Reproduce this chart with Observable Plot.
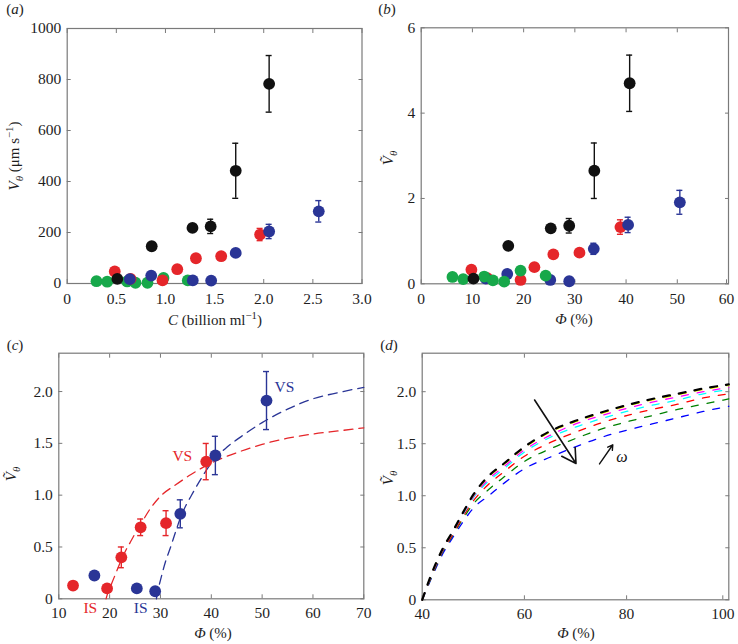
<!DOCTYPE html>
<html><head><meta charset="utf-8">
<script src="https://cdn.jsdelivr.net/npm/d3@7"></script>
<script src="https://cdn.jsdelivr.net/npm/@observablehq/plot@0.6"></script>
<style>
body{margin:0;background:#fff;}
#root{position:relative;width:738px;height:644px;overflow:hidden;background:#fff;}
#root svg{position:absolute;overflow:visible;}
</style></head><body><div id="root"></div>
<script>
const FONT = "'Liberation Serif', 'Times New Roman', serif";
const GRAY = "#7a7a7a", TXT = "#1e1e1e";
const RED = "#e5262a", BLUE = "#2a3596", GREEN = "#17a84a", BLACK = "#111111";

// ---------- Panel (a): V_theta vs C ----------
const aTicksX = [0, 0.5, 1, 1.5, 2, 2.5, 3];
const aTicksY = [0, 200, 400, 600, 800, 1000];
const aBlackC = [0.51, 0.86, 1.275, 1.46, 1.715, 2.055];
const aBlackV = [18, 146, 218, 224, 442, 783];
const aBlackErr = [0, 0, 0, 28, 108, 111];
const aRedC = [0.484, 0.645, 0.97, 1.12, 1.31, 1.567, 1.963];
const aRedV = [47, 18, 12, 56, 99, 107, 192];
const aRedErr = [0, 0, 0, 0, 0, 0, 24];
const aBlueC = [0.637, 0.855, 1.278, 1.465, 1.715, 2.055, 2.56];
const aBlueV = [17, 31, 12, 11, 120, 204, 283];
const aBlueErr = [0, 0, 0, 0, 0, 28, 42];
const aGreenC = [0.298, 0.407, 0.61, 0.695, 0.817, 0.98, 1.227];
const aGreenV = [9, 7, 8, 3, 3, 22, 12];

// ---------- Panel (b): normalised V vs Phi ----------
const bTicksX = [0, 10, 20, 30, 40, 50, 60];
const bTicksY = [0, 2, 4, 6];
const bBlackPhi = [10.2, 17.0, 25.3, 28.9, 33.8, 40.7];
const bBlackV = [0.12, 0.89, 1.30, 1.36, 2.65, 4.70];
const bBlackErr = [0, 0, 0, 0.17, 0.65, 0.66];
const bRedPhi = [9.8, 12.9, 19.4, 22.1, 25.8, 30.9, 38.9];
const bRedV = [0.33, 0.13, 0.09, 0.39, 0.69, 0.73, 1.33];
const bRedErr = [0, 0, 0, 0, 0, 0, 0.17];
const bBluePhi = [12.6, 16.8, 25.2, 28.9, 33.7, 40.4, 50.5];
const bBlueV = [0.12, 0.23, 0.09, 0.06, 0.82, 1.38, 1.91];
const bBlueErr = [0, 0, 0, 0, 0.13, 0.18, 0.28];
const bGreenPhi = [6.1, 8.2, 12.3, 14.0, 16.2, 19.4, 24.3];
const bGreenV = [0.16, 0.11, 0.17, 0.08, 0.05, 0.31, 0.19];

// ---------- Panel (c): data + fits ----------
const cTicksX = [10, 20, 30, 40, 50, 60, 70];
const cTicksY = [0, 0.5, 1, 1.5, 2];
const cRedPhi = [12.8, 19.5, 22.3, 26.1, 31.1, 39.0];
const cRedV = [0.128, 0.10, 0.40, 0.69, 0.73, 1.324];
const cRedErr = [0, 0, 0.10, 0.08, 0.12, 0.175];
const cBluePhi = [17.0, 25.35, 28.96, 33.9, 40.8, 50.86];
const cBlueV = [0.225, 0.10, 0.073, 0.82, 1.383, 1.913];
const cBlueErr = [0, 0, 0, 0.135, 0.185, 0.28];
const cRedFitPhi = [19.3, 19.6, 20, 21, 22, 23, 24, 25, 26, 28, 30, 33, 36, 40, 45, 50, 55, 60, 65, 70];
const cRedFitV = [0, 0.05, 0.10, 0.22, 0.34, 0.45, 0.54, 0.63, 0.71, 0.87, 0.99, 1.10, 1.20, 1.31, 1.41, 1.49, 1.55, 1.59, 1.62, 1.65];
const cBlueFitPhi = [29.2, 29.5, 30, 31, 32, 33, 34, 35, 36, 38, 40, 43, 46, 50, 55, 60, 65, 70];
const cBlueFitV = [0, 0.08, 0.18, 0.36, 0.50, 0.65, 0.79, 0.90, 0.99, 1.16, 1.31, 1.46, 1.57, 1.70, 1.83, 1.93, 1.99, 2.04];
const cLabelText = ["VS", "VS", "IS", "IS"];
const cLabelPhi = [34.3, 54.4, 16.2, 26.1];
const cLabelV = [1.38, 2.04, -0.085, -0.085];
const cLabelColor = [RED, BLUE, RED, BLUE];

// ---------- Panel (d): model curves for increasing omega ----------
const dTicksX = [40, 60, 80, 100];
const dTicksY = [0, 0.5, 1, 1.5, 2];
const dPhi = [40, 42, 44, 46, 48, 50, 53, 56, 60, 65, 70, 75, 80, 85, 90, 95, 100];
const dBlack   = [0, 0.27, 0.49, 0.66, 0.84, 1.01, 1.19, 1.31, 1.47, 1.62, 1.72, 1.80, 1.87, 1.93, 1.98, 2.03, 2.07];
const dYellow  = [0, 0.27, 0.49, 0.66, 0.84, 1.00, 1.18, 1.30, 1.46, 1.61, 1.71, 1.79, 1.86, 1.92, 1.97, 2.02, 2.06];
const dMagenta = [0, 0.26, 0.48, 0.65, 0.83, 0.99, 1.16, 1.28, 1.44, 1.58, 1.69, 1.77, 1.84, 1.90, 1.95, 2.00, 2.04];
const dCyan    = [0, 0.26, 0.48, 0.65, 0.82, 0.98, 1.14, 1.26, 1.42, 1.56, 1.66, 1.74, 1.81, 1.87, 1.92, 1.98, 2.02];
const dRed     = [0, 0.25, 0.47, 0.63, 0.80, 0.95, 1.11, 1.23, 1.38, 1.51, 1.61, 1.70, 1.77, 1.83, 1.88, 1.94, 1.98];
const dGreen   = [0, 0.24, 0.46, 0.62, 0.78, 0.92, 1.06, 1.18, 1.33, 1.45, 1.55, 1.64, 1.71, 1.77, 1.83, 1.88, 1.93];
const dBlue    = [0, 0.23, 0.44, 0.60, 0.75, 0.88, 1.00, 1.12, 1.26, 1.37, 1.47, 1.56, 1.63, 1.69, 1.75, 1.81, 1.86];
const dCurveNames = ["blue", "green", "red", "cyan", "magenta", "yellow", "black"];
const dCurveColors = ["#2b36a3", "#1f9e4e", "#e0283a", "#22aed4", "#c23ca6", "#cdb252", "#111111"];
const dArrowBig = {x1: [62.0], y1: [1.92], x2: [70.1], y2: [1.31]};
const dArrowSmall = {x1: [74.7], y1: [1.306], x2: [77.3], y2: [1.49]};
const dOmega = {x: [79.1], y: [1.37], text: ["ω"]};

// ---------- helpers ----------
const pts = (xs, ys, es) => xs.map((x, i) => ({x, y: ys[i], e: es ? es[i] : 0}));
function scatter(data, color, r = 5.9) {
  const eb = data.filter(d => d.e > 0);
  const cap = {x1: "x", x2: "x", insetLeft: -3, insetRight: -3, stroke: color, strokeWidth: 1.4};
  return [
    Plot.ruleX(eb, {x: "x", y1: d => d.y - d.e, y2: d => d.y + d.e, stroke: color, strokeWidth: 1.4}),
    Plot.ruleY(eb, {y: d => d.y - d.e, ...cap}),
    Plot.ruleY(eb, {y: d => d.y + d.e, ...cap}),
    Plot.dot(data, {x: "x", y: "y", r, fill: color})
  ];
}
function box(xT, yT, xF, yF, xPad = 9, yPad = 6, lastDx = 0) {
  const ts = -4;
  const xMain = lastDx ? xT.slice(0, -1) : xT;
  return [
    Plot.axisX(xMain, {anchor: "bottom", tickSize: ts, tickPadding: xPad - ts, tickFormat: xF, stroke: GRAY, fill: TXT, label: null}),
    ...(lastDx ? [Plot.axisX(xT.slice(-1), {anchor: "bottom", tickSize: ts, tickPadding: xPad - ts, tickFormat: xF, stroke: GRAY, fill: TXT, label: null, dx: lastDx})] : []),
    Plot.axisX(xT, {anchor: "top", tickSize: ts, stroke: GRAY, fill: "none", label: null}),
    Plot.axisY(yT, {anchor: "left", tickSize: ts, tickPadding: yPad - ts, tickFormat: yF, stroke: GRAY, fill: TXT, label: null}),
    Plot.axisY(yT, {anchor: "right", tickSize: ts, stroke: GRAY, fill: "none", label: null}),
    Plot.frame({stroke: GRAY, strokeWidth: 1.2})
  ];
}
const fmt1 = d => d === 0 ? "0" : d.toFixed(1);
const fmt0 = d => String(d);
const style = {fontFamily: FONT, fontSize: "15.5px", color: TXT, background: "transparent", overflow: "visible"};
const root = document.getElementById("root");
function place(svg, left, top) { svg.style.left = left + "px"; svg.style.top = top + "px"; root.appendChild(svg); }

// ---------- (a) ----------
place(Plot.plot({
  width: 369, height: 320, marginLeft: 66.7, marginRight: 7.5, marginTop: 28, marginBottom: 37,
  x: {domain: [0, 3], label: null}, y: {domain: [0, 1000], label: null}, style,
  marks: [
    ...box(aTicksX, aTicksY, fmt1, fmt0),
    ...scatter(pts(aGreenC, aGreenV), GREEN),
    ...scatter(pts(aRedC, aRedV, aRedErr), RED),
    ...scatter(pts(aBlueC, aBlueV, aBlueErr), BLUE),
    ...scatter(pts(aBlackC, aBlackV, aBlackErr), BLACK)
  ]
}), 0, 0);

// ---------- (b) ----------
place(Plot.plot({
  width: 369, height: 320, marginLeft: 51.7, marginRight: 10, marginTop: 27.3, marginBottom: 36.7,
  x: {domain: [0, 60], label: null}, y: {domain: [0, 6], label: null}, style,
  marks: [
    ...box(bTicksX, bTicksY, fmt0, fmt0, 9, 6, -2),
    ...scatter(pts(bRedPhi, bRedV, bRedErr), RED),
    ...scatter(pts(bBluePhi, bBlueV, bBlueErr), BLUE),
    ...scatter(pts(bGreenPhi, bGreenV), GREEN),
    ...scatter(pts(bBlackPhi, bBlackV, bBlackErr), BLACK)
  ]
}), 369, 0);

// ---------- (c) ----------
const cLabels = cLabelText.map((t, i) => ({t, x: cLabelPhi[i], y: cLabelV[i], c: cLabelColor[i]}));
place(Plot.plot({
  width: 369, height: 324, marginLeft: 58.3, marginRight: 5.7, marginTop: 32.7, marginBottom: 45.7,
  x: {domain: [10, 70], label: null}, y: {domain: [0, 2.37], label: null}, style,
  marks: [
    ...box(cTicksX, cTicksY, fmt0, fmt1, 8, 6),
    Plot.line(pts(cRedFitPhi, cRedFitV), {x: "x", y: "y", stroke: RED, strokeWidth: 1.3, strokeDasharray: "9,6", curve: "monotone-x"}),
    Plot.line(pts(cBlueFitPhi, cBlueFitV), {x: "x", y: "y", stroke: BLUE, strokeWidth: 1.3, strokeDasharray: "9,6", curve: "monotone-x"}),
    ...scatter(pts(cRedPhi, cRedV, cRedErr), RED),
    ...scatter(pts(cBluePhi, cBlueV, cBlueErr), BLUE),
    Plot.text(cLabels, {x: "x", y: "y", text: "t", fill: "c", fontSize: 15.5, fontFamily: FONT})
  ]
}), 0, 320);

// ---------- (d) ----------
const dSeries = [dBlue, dGreen, dRed, dCyan, dMagenta, dYellow, dBlack];
const dData = dSeries.flatMap((vals, k) => dPhi.map((p, i) => ({x: p, y: vals[i], name: dCurveNames[k]})));
place(Plot.plot({
  width: 369, height: 324, marginLeft: 52.7, marginRight: 9.7, marginTop: 32.7, marginBottom: 44.7,
  x: {domain: [40, 100], label: null}, y: {domain: [0, 2.37], label: null},
  color: {domain: dCurveNames, range: dCurveColors}, style,
  marks: [
    ...box(dTicksX, dTicksY, fmt0, fmt1, 8, 6, -6),
    ...dCurveNames.map(n => Plot.line(dData.filter(d => d.name === n), {
      x: "x", y: "y", stroke: "name", strokeWidth: n === "black" ? 2.2 : 1.3,
      strokeDasharray: "7,9", curve: "monotone-x"})),
    Plot.arrow(dArrowBig.x1.map((v, i) => i), {x1: i => dArrowBig.x1[i], y1: i => dArrowBig.y1[i], x2: i => dArrowBig.x2[i], y2: i => dArrowBig.y2[i], stroke: "#111", strokeWidth: 1.6, headLength: 15}),
    Plot.arrow(dArrowSmall.x1.map((v, i) => i), {x1: i => dArrowSmall.x1[i], y1: i => dArrowSmall.y1[i], x2: i => dArrowSmall.x2[i], y2: i => dArrowSmall.y2[i], stroke: "#111", strokeWidth: 1.4, headLength: 6}),
    Plot.text(dOmega.x.map((v, i) => i), {x: i => dOmega.x[i], y: i => dOmega.y[i], text: i => dOmega.text[i], fontSize: 16, fontStyle: "italic", fontFamily: FONT, fill: "#111"})
  ]
}), 369, 320);

// ---------- overlay: axis titles and panel letters ----------
const ov = d3.create("svg").attr("width", 738).attr("height", 644)
  .style("left", "0px").style("top", "0px").style("pointer-events", "none")
  .attr("font-family", FONT).attr("fill", TXT);
function label(x, y, parts, rot, size = 15) {
  const t = ov.append("text")
    .attr("transform", `translate(${x},${y})` + (rot ? " rotate(-90)" : ""))
    .attr("text-anchor", "middle").attr("y", size * 0.35).attr("font-size", size);
  let shift = 0;
  for (const p of parts) {
    const target = p.sub ? 4 : p.sup ? -6 : 0;
    const s = t.append("tspan").text(p.t);
    if (target !== shift) { s.attr("dy", target - shift); shift = target; }
    if (p.i) s.attr("font-style", "italic");
    if (p.sub || p.sup) s.attr("font-size", size * 0.72);
  }
}
label(14, 156, [{t: "V", i: 1}, {t: "θ", i: 1, sub: 1}, {t: " (μm s"}, {t: "−1", sup: 1}, {t: ")"}], true);
label(215, 320, [{t: "C", i: 1}, {t: " (billion ml"}, {t: "−1", sup: 1}, {t: ")"}], false);
label(388, 158, [{t: "Ṽ", i: 1}, {t: "θ", i: 1, sub: 1}], true);
label(574, 319, [{t: "Φ", i: 1}, {t: " (%)"}], false);
label(11, 474, [{t: "Ṽ", i: 1}, {t: "θ", i: 1, sub: 1}], true);
label(213, 633, [{t: "Φ", i: 1}, {t: " (%)"}], false);
label(388, 478, [{t: "Ṽ", i: 1}, {t: "θ", i: 1, sub: 1}], true);
label(576, 633, [{t: "Φ", i: 1}, {t: " (%)"}], false);
label(15, 9, [{t: "("}, {t: "a", i: 1}, {t: ")"}], false);
label(387, 9, [{t: "("}, {t: "b", i: 1}, {t: ")"}], false);
label(15, 345, [{t: "("}, {t: "c", i: 1}, {t: ")"}], false);
label(389, 345, [{t: "("}, {t: "d", i: 1}, {t: ")"}], false);
root.appendChild(ov.node());
</script></body></html>
